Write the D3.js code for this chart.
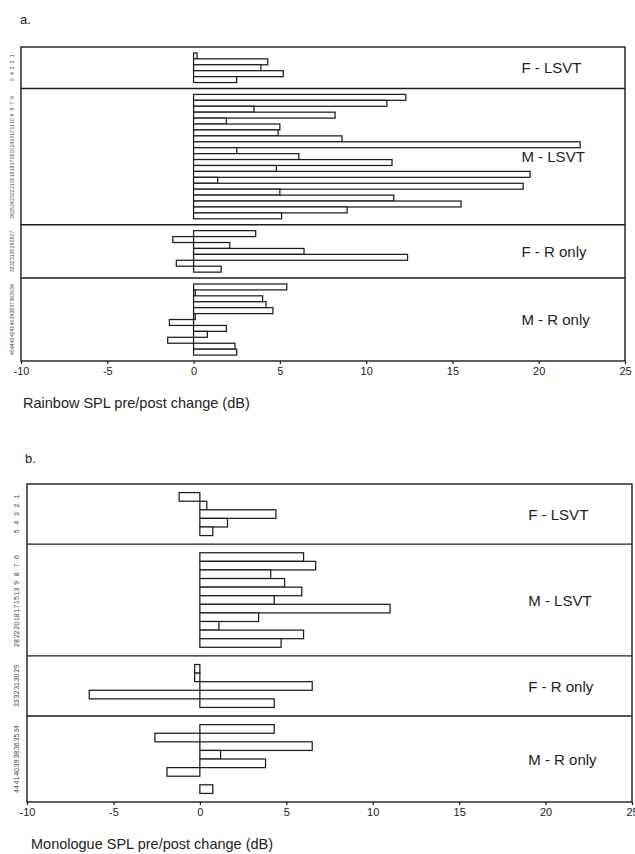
<!DOCTYPE html>
<html>
<head>
<meta charset="utf-8">
<script src="https://cdn.jsdelivr.net/npm/d3@7/dist/d3.min.js"></script>
<style>
  html, body { margin: 0; padding: 0; background: #fff; }
  svg { display: block; font-family: "Liberation Sans", Arial, sans-serif; }
</style>
</head>
<body>
<svg id="chart" width="635" height="854"></svg>
<script>
// Treatment / sex groups, shown top to bottom in each panel
const groups = ["F - LSVT", "M - LSVT", "F - R only", "M - R only"];

// Tick values of the shared change axis (dB)
const tickValues = [-10, -5, 0, 5, 10, 15, 20, 25];

// Panel a: Rainbow passage, subject ids per group
const rainbowSubjects = [
  [1, 2, 3, 4, 5],
  [6, 7, 8, 9, 10, 11, 12, 13, 14, 15, 16, 17, 18, 19, 20, 21, 22, 23, 24, 25, 26],
  [27, 28, 29, 30, 31, 32, 33],
  [34, 35, 36, 37, 38, 39, 40, 41, 42, 43, 44, 45]
];
// Panel a: pre/post SPL change (dB) per subject
const rainbowChange = [
  [0.2, 4.3, 3.9, 5.2, 2.5],
  [12.3, 11.2, 3.5, 8.2, 1.9, 5.0, 4.9, 8.6, 22.4, 2.5, 6.1, 11.5, 4.8, 19.5, 1.4, 19.1, 5.0, 11.6, 15.5, 8.9, 5.1],
  [3.6, -1.2, 2.1, 6.4, 12.4, -1.0, 1.6],
  [5.4, 0.1, 4.0, 4.2, 4.6, 0.1, -1.4, 1.9, 0.8, -1.5, 2.4, 2.5]
];

// Panel b: Monologue, subject ids per group
const monologueSubjects = [
  [1, 2, 3, 4, 5],
  [6, 7, 8, 9, 13, 15, 17, 18, 20, 22, 28],
  [29, 30, 31, 32, 33],
  [34, 35, 36, 38, 39, 40, 41, 44]
];
// Panel b: pre/post SPL change (dB) per subject
const monologueChange = [
  [-1.2, 0.4, 4.4, 1.6, 0.75],
  [6.0, 6.7, 4.1, 4.9, 5.9, 4.3, 11.0, 3.4, 1.1, 6.0, 4.7],
  [-0.3, -0.3, 6.5, -6.4, 4.3],
  [4.3, -2.6, 6.5, 1.2, 3.8, -1.9, 0, 0.75]
];

const svg = d3.select("#chart");
const ink = "#1c1c1c";

function drawPanel(cfg) {
  const { left, right, top, bottom, subjects, values, letter, letterX, letterY,
          title, titleX, titleY, idFont, idX } = cfg;

  const x = d3.scaleLinear().domain([-10, 25]).range([left, right]);

  // one empty slot above and below every group
  const starts = [];
  let total = 0;
  subjects.forEach(s => { starts.push(total); total += s.length + 2; });
  const y = d3.scaleLinear().domain([0, total]).range([top, bottom]);
  const slot = y(1) - y(0);

  const g = svg.append("g");

  // bars
  groups.forEach((grp, gi) => {
    const rows = values[gi].map((v, j) => ({ v, id: subjects[gi][j], k: starts[gi] + 1 + j }));
    g.selectAll(null).data(rows).enter().append("rect")
      .attr("x", d => x(Math.min(0, d.v)))
      .attr("y", d => y(d.k))
      .attr("width", d => Math.abs(x(d.v) - x(0)))
      .attr("height", slot)
      .attr("fill", "#fff")
      .attr("stroke", ink)
      .attr("stroke-width", 1.25);

    // subject ids, rotated
    g.selectAll(null).data(rows).enter().append("text")
      .attr("transform", d => `translate(${idX},${y(d.k) + slot / 2}) rotate(-90)`)
      .attr("text-anchor", "middle")
      .attr("dy", "0.35em")
      .attr("font-size", idFont)
      .attr("fill", "#444")
      .text(d => d.id);

    // group label
    const yc = (y(starts[gi]) + y(starts[gi] + subjects[gi].length + 2)) / 2;
    g.append("text")
      .attr("x", x(19))
      .attr("y", yc)
      .attr("dy", "0.37em")
      .attr("font-size", 15)
      .attr("fill", "#222")
      .text(grp);
  });

  // frame and group dividers
  g.append("rect")
    .attr("x", left).attr("y", top)
    .attr("width", right - left).attr("height", bottom - top)
    .attr("fill", "none").attr("stroke", ink).attr("stroke-width", 1.4);
  starts.slice(1).forEach(s => {
    g.append("line")
      .attr("x1", left).attr("x2", right)
      .attr("y1", y(s)).attr("y2", y(s))
      .attr("stroke", ink).attr("stroke-width", 1.4);
  });

  // bottom axis
  const axis = g.append("g")
    .attr("transform", `translate(0,${bottom})`)
    .call(d3.axisBottom(x).tickValues(tickValues).tickSize(3).tickFormat(d => String(d)));
  axis.select(".domain").remove();
  axis.selectAll(".tick line").attr("stroke", ink).attr("stroke-width", 1.2);
  axis.selectAll(".tick text")
    .attr("font-size", 11)
    .attr("font-family", "Liberation Sans, Arial, sans-serif")
    .attr("fill", "#222");

  // panel letter and axis title
  g.append("text").attr("x", letterX).attr("y", letterY)
    .attr("font-size", 13).attr("fill", "#222").text(letter);
  g.append("text").attr("x", titleX).attr("y", titleY)
    .attr("font-size", 14.5).attr("fill", "#222").text(title);
}

drawPanel({
  left: 21, right: 625, top: 47, bottom: 361,
  subjects: rainbowSubjects, values: rainbowChange,
  letter: "a.", letterX: 20, letterY: 24,
  title: "Rainbow SPL pre/post change (dB)", titleX: 23, titleY: 408,
  idFont: 5, idX: 12
});

drawPanel({
  left: 27, right: 632, top: 484, bottom: 802,
  subjects: monologueSubjects, values: monologueChange,
  letter: "b.", letterX: 25, letterY: 463,
  title: "Monologue SPL pre/post change (dB)", titleX: 31, titleY: 849,
  idFont: 7, idX: 17
});
</script>
</body>
</html>
